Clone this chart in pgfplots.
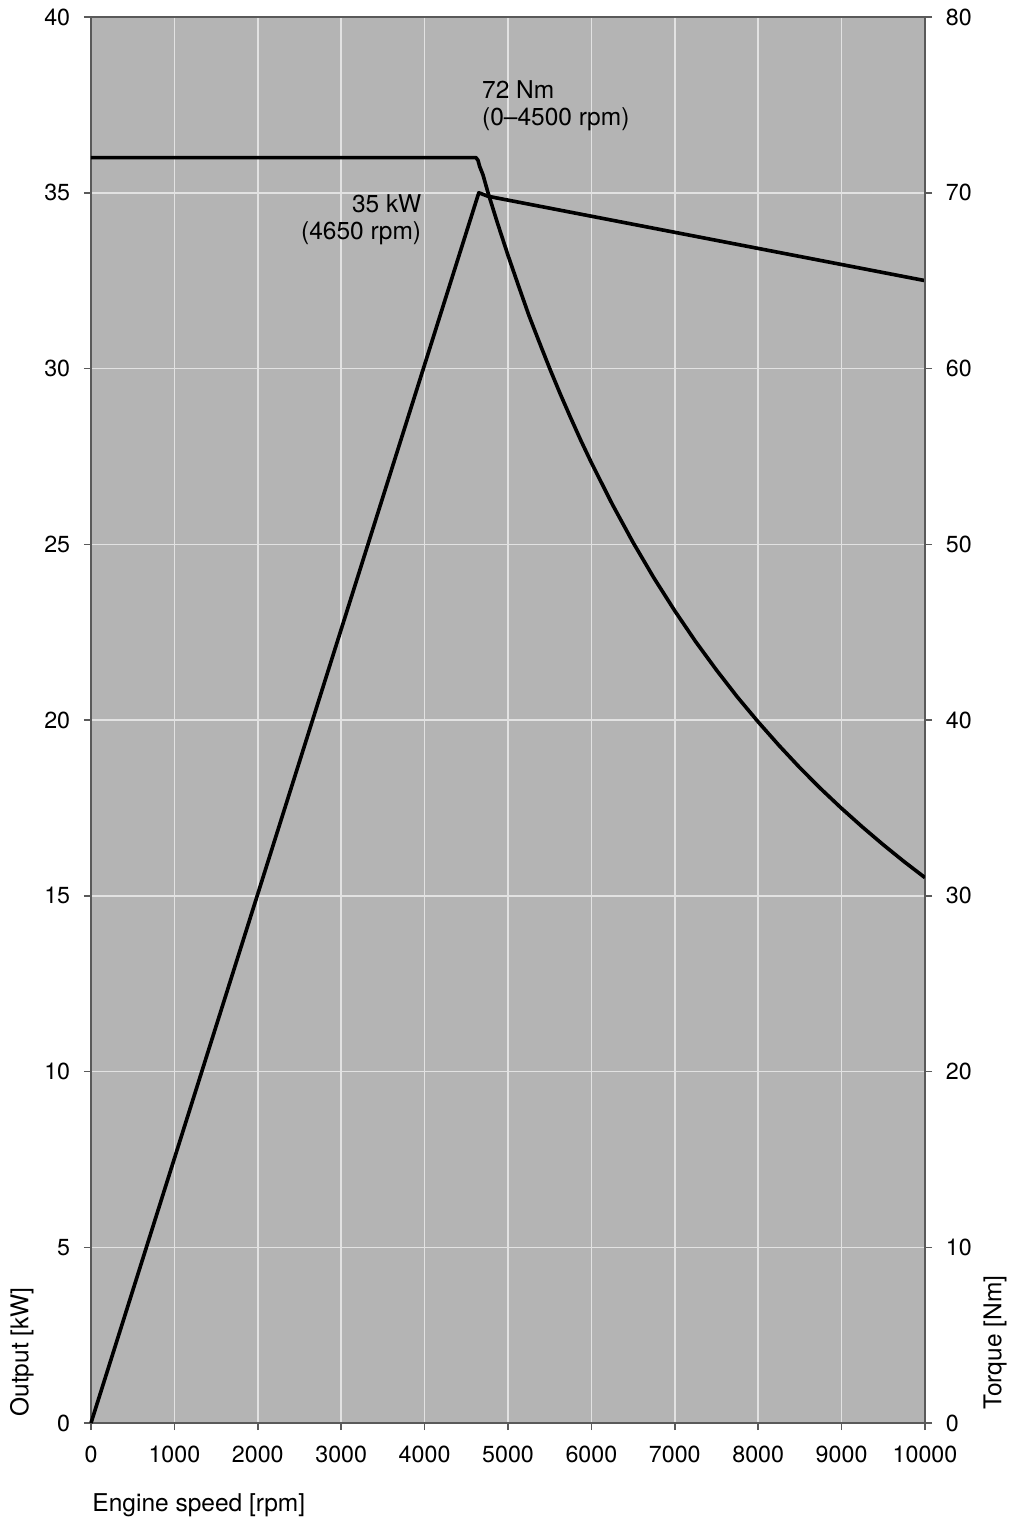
\documentclass[border=0pt]{standalone}
\usepackage{pgfplots}
\pgfplotsset{compat=1.18}
\usetikzlibrary{calc}
\usepackage{fontspec}
\setmainfont{TeX Gyre Heros}
\definecolor{bggray}{HTML}{B4B4B4}
\definecolor{gridc}{HTML}{E2E2E2}
\definecolor{axc}{HTML}{5A5A5A}
\newcommand{\lblfont}{\fontsize{9.8}{10.6}\selectfont}
\newcommand{\tkfont}{\fontsize{9.3}{11}\selectfont}
\pgfplotstableread{
rpm kw
0 0
4650 35.0
4760 34.9
10000 32.5
}\power
\pgfplotstableread{
rpm nm
0 72
4615 72
4640 71.85
4660 71.5
4700 71.02
4760 70.01
4875 68.26
5000 66.44
5125 64.72
5250 63.03
5375 61.50
5500 60.00
5625 58.57
5750 57.21
5875 55.89
6000 54.64
6250 52.28
6500 50.10
6750 48.08
7000 46.21
7250 44.46
7500 42.84
7750 41.31
8000 39.89
8250 38.55
8500 37.28
8750 36.09
9000 34.97
9250 33.91
9500 32.90
9750 31.94
10000 31.03
}\torque
\begin{document}
\begin{tikzpicture}
\path[use as bounding box] (-36.4pt,-39.6pt) rectangle (369.6pt,569.2pt);
\begin{axis}[
  scale only axis, width=333.6pt, height=562.4pt,
  at={(0,0)}, anchor=south west,
  xmin=0, xmax=10000, ymin=0, ymax=40,
  xtick={0,1000,...,10000}, ytick={0,5,...,40},
  scaled x ticks=false,
  xtick pos=bottom, ytick pos=left,
  tick align=outside, major tick length=2.8pt,
  axis line style={axc, line width=0.6pt},
  every tick/.style={axc, line width=0.6pt},
  axis background/.style={fill=bggray},
  grid=major, major grid style={gridc, line width=0.6pt},
  tick label style={font=\tkfont},
  /pgf/number format/assume math mode=true,
  /pgf/number format/1000 sep={},
  xticklabel style={yshift=-3pt},
  yticklabel style={xshift=-2pt},
  clip=false,
]
\addplot[black, line width=1.45pt, line join=round] table[x=rpm,y=kw]{\power};
\node[anchor=west, inner sep=0pt, align=left, font=\lblfont] at (axis cs:4684,37.48) {72 Nm\\(0–4500 rpm)};
\node[anchor=east, inner sep=0pt, align=right, font=\lblfont] at (axis cs:3965,34.23) {35 kW\\(4650 rpm)};
\node[anchor=west, rotate=90, inner sep=0pt, font=\lblfont] at ($(rel axis cs:0,0)+(-27.6pt,2.4pt)$) {Output [kW]};
\node[anchor=west, rotate=90, inner sep=0pt, font=\lblfont] at ($(rel axis cs:1,0)+(28pt,5.2pt)$) {Torque [Nm]};
\node[anchor=west, inner sep=0pt, font=\lblfont] at ($(rel axis cs:0,0)+(0.4pt,-32.8pt)$) {Engine speed [rpm]};
\end{axis}
\begin{axis}[
  scale only axis, width=333.6pt, height=562.4pt,
  at={(0,0)}, anchor=south west,
  xmin=0, xmax=10000, ymin=0, ymax=80,
  ytick={0,10,...,80},
  axis x line=none, axis y line*=right,
  tick align=outside, major tick length=2.8pt,
  axis line style={axc, line width=0.6pt, -},
  every tick/.style={axc, line width=0.6pt},
  tick label style={font=\tkfont},
  /pgf/number format/assume math mode=true,
  yticklabel style={xshift=2pt},
]
\addplot[black, line width=1.45pt, line join=round] table[x=rpm,y=nm]{\torque};
\end{axis}
\end{tikzpicture}
\end{document}
